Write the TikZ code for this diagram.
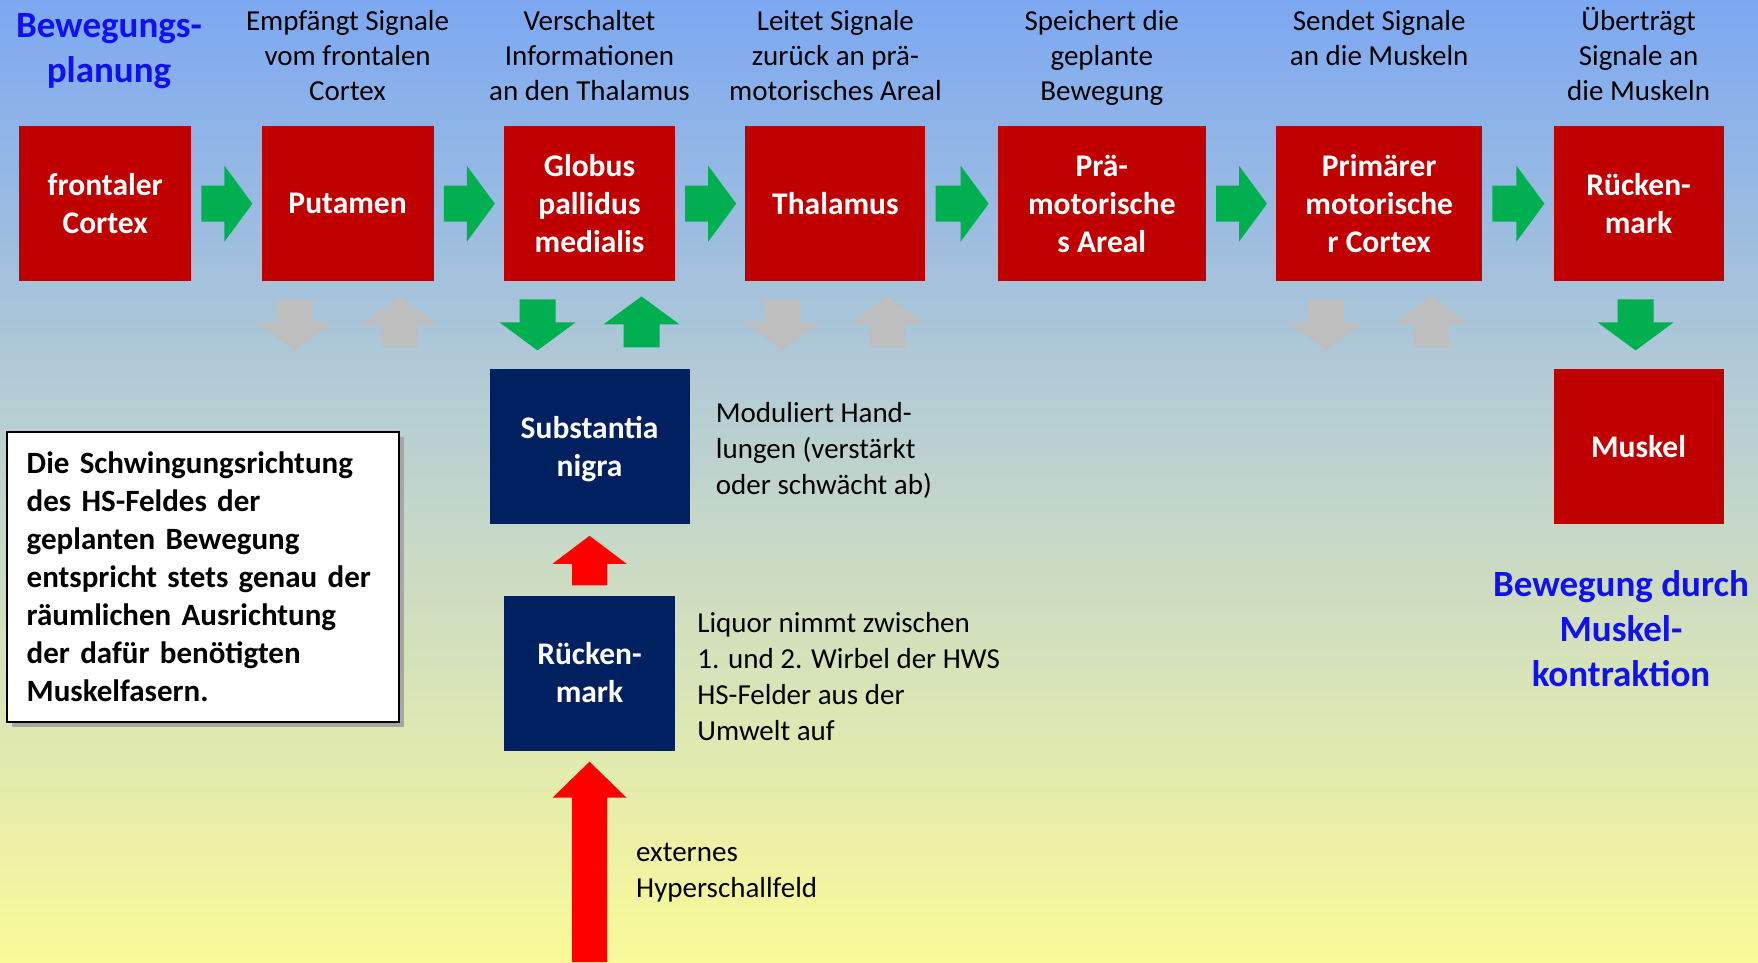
\documentclass[tikz,border=0pt]{standalone}
\usepackage{fontspec}
\setmainfont{Carlito}
\usetikzlibrary{positioning,calc,shadows}

\definecolor{boxred}{RGB}{192,0,0}
\definecolor{boxnavy}{RGB}{0,32,96}
\definecolor{flowgreen}{RGB}{0,176,80}
\definecolor{flowgray}{RGB}{191,191,191}
\definecolor{flowred}{RGB}{255,0,0}
\definecolor{titleblue}{RGB}{16,16,240}
\definecolor{bgtop}{RGB}{124,168,242}
\definecolor{bgmid}{RGB}{192,212,205}
\definecolor{bgbot}{RGB}{250,250,152}
% the shading is fitted so that 25bp..75bp covers the path
\pgfdeclareverticalshading{bgshade}{100bp}{color(0bp)=(bgbot); color(25bp)=(bgbot);
  color(50bp)=(bgmid); color(75bp)=(bgtop); color(100bp)=(bgtop)}

\newcommand\boxfont{\fontsize{31.5}{38}\selectfont\bfseries}
\newcommand\notefont{\fontsize{31}{38}\selectfont\bfseries}
\newcommand\descfont{\fontsize{29}{35}\selectfont}
\newcommand\sidefont{\fontsize{29}{35.7}\selectfont}
\newcommand\titlefont{\fontsize{37}{45}\selectfont\bfseries}
\newcommand\firstline[1]{\rule{0pt}{#1}}

\tikzset{
    stage/.style={fill=boxred, text=white, font=\boxfont, align=center,
        minimum height=155pt, inner sep=0pt},
    navystage/.style={stage, fill=boxnavy},
    desc/.style={font=\descfont, align=center, inner sep=0pt, anchor=north},
    side/.style={font=\sidefont, align=left, inner sep=0pt},
    title/.style={font=\titlefont, text=titleblue, align=center, inner sep=0pt},
    notebox/.style={draw=black, line width=1.5pt, fill=white, font=\notefont,
        text width=352pt, minimum width=392pt, minimum height=290pt,
        inner xsep=20pt, align=left,
        drop shadow={shadow xshift=5pt, shadow yshift=-5pt, fill=gray!70, opacity=1}},
    % block arrow: half shaft width, half head width, head length
    blockarrow/.style n args={3}{to path={
        let \p1=(\tikztostart), \p2=(\tikztotarget),
            \n1={veclen(\x2-\x1,\y2-\y1)}, \n2={atan2(\y2-\y1,\x2-\x1)},
            \n3={\n1-#3} in
        ([shift={(\p1)},rotate=\n2]0pt,-#1) -- ([shift={(\p1)},rotate=\n2]\n3,-#1)
        -- ([shift={(\p1)},rotate=\n2]\n3,-#2) -- (\p2)
        -- ([shift={(\p1)},rotate=\n2]\n3,#2) -- ([shift={(\p1)},rotate=\n2]\n3,#1)
        -- ([shift={(\p1)},rotate=\n2]0pt,#1) -- cycle}},
    flow/.style={blockarrow={18pt}{38pt}{28pt}},
    redflow/.style={fill=flowred, blockarrow={17.5pt}{37pt}{#1}},
    }

\begin{document}
\begin{tikzpicture}[x=1pt, y=-1pt]
\useasboundingbox (0,0) rectangle (1758,962);
\fill[shading=bgshade] (0,0) rectangle (1758,962);

% main chain
\node[stage, minimum width=172pt, anchor=north west] (fc) at (19,126) {frontaler\\Cortex};
\node[stage, minimum width=172pt, right=70pt of fc] (put) {Putamen};
\node[stage, minimum width=171pt, right=70pt of put] (glob) {Globus\\pallidus\\medialis};
\node[stage, minimum width=180pt, right=70pt of glob] (thal) {Thalamus};
\node[stage, minimum width=208pt, right=72pt of thal] (prae) {Prä-\\motorische\\s Areal};
\node[stage, minimum width=206pt, right=70pt of prae] (prim) {Primärer\\motorische\\r Cortex};
\node[stage, minimum width=170pt, right=71pt of prim] (rm) {Rücken-\\mark};

\node[navystage, minimum width=200pt, below=87pt of glob] (subst) {\firstline{29pt}Substantia\\nigra};
\node[navystage, minimum width=171pt, below=71.5pt of subst] (sc) {Rücken-\\mark};
\node[stage, minimum width=170pt, below=87pt of rm] (musk) {Muskel};

% texts above
\coordinate (toprow) at (0,4.5);
\node[desc] at (put.north |- toprow) {\firstline{26pt}Empfängt Signale\\vom frontalen\\Cortex};
\node[desc] at (glob.north |- toprow) {\firstline{26pt}Verschaltet\\Informationen\\an den Thalamus};
\node[desc] at (thal.north |- toprow) {\firstline{26pt}Leitet Signale\\zurück an prä-\\motorisches Areal};
\node[desc] at (prae.north |- toprow) {\firstline{26pt}Speichert die\\geplante\\Bewegung};
\node[desc] at (prim.north |- toprow) {\firstline{26pt}Sendet Signale\\an die Muskeln};
\node[desc] at (rm.north |- toprow) {\firstline{26pt}Überträgt\\Signale an\\die Muskeln};

\node[title, anchor=north] (plan) at (109,13) {Bewegungs-\\planung};
\node[title] (kontr) at (1621,629) {Bewegung durch\\Muskel-\\kontraktion};

% side texts
\node[side, right=26pt of subst, yshift=-4.5pt] (substtxt) {Moduliert Hand-\\lungen (verstärkt\\oder schwächt ab)};
\node[side, right=22pt of sc, yshift=-3.5pt] (sctxt) {Liquor nimmt zwischen\\1. und 2. Wirbel der HWS\\HS-Felder aus der\\Umwelt auf};
\node[side, anchor=west] (exttxt) at (636,872.5) {externes\\Hyperschallfeld};

\node[notebox, anchor=north west] (note) at (6,431) {Die Schwingungsrichtung\\des HS-Feldes der\\geplanten Bewegung\\entspricht stets genau der\\räumlichen Ausrichtung\\der dafür benötigten\\Muskelfasern.};

% arrows along the chain
\foreach \a/\b in {fc/put, put/glob, glob/thal, thal/prae, prae/prim, prim/rm}
    \fill[flowgreen, flow] ([xshift=10pt]\a.east) to ([xshift=-9pt]\b.west);

% down/up pairs
\foreach \n in {put, thal, prim} {
    \fill[flowgray, flow] ([xshift=-53pt,yshift=-18pt]\n.south) to ([xshift=-53pt,yshift=-69pt]\n.south);
    \fill[flowgray, flow] ([xshift=52pt,yshift=-66pt]\n.south) to ([xshift=52pt,yshift=-15pt]\n.south);
}
\fill[flowgreen, flow] ([xshift=-52pt,yshift=-18pt]glob.south) to ([xshift=-52pt,yshift=18pt]subst.north);
\fill[flowgreen, flow] ([xshift=52pt,yshift=21pt]subst.north) to ([xshift=52pt,yshift=-15pt]glob.south);
\fill[flowgreen, flow] ([xshift=-3pt,yshift=-18pt]rm.south) to ([xshift=-3pt,yshift=18pt]musk.north);

% red input
\coordinate (ground) at (sc.south |- 0,962);
\fill[redflow=28pt] ([yshift=10pt]sc.north) to ([yshift=-12pt]subst.south);
\fill[redflow=36pt] (ground) to ([yshift=-11pt]sc.south);
\end{tikzpicture}
\end{document}
